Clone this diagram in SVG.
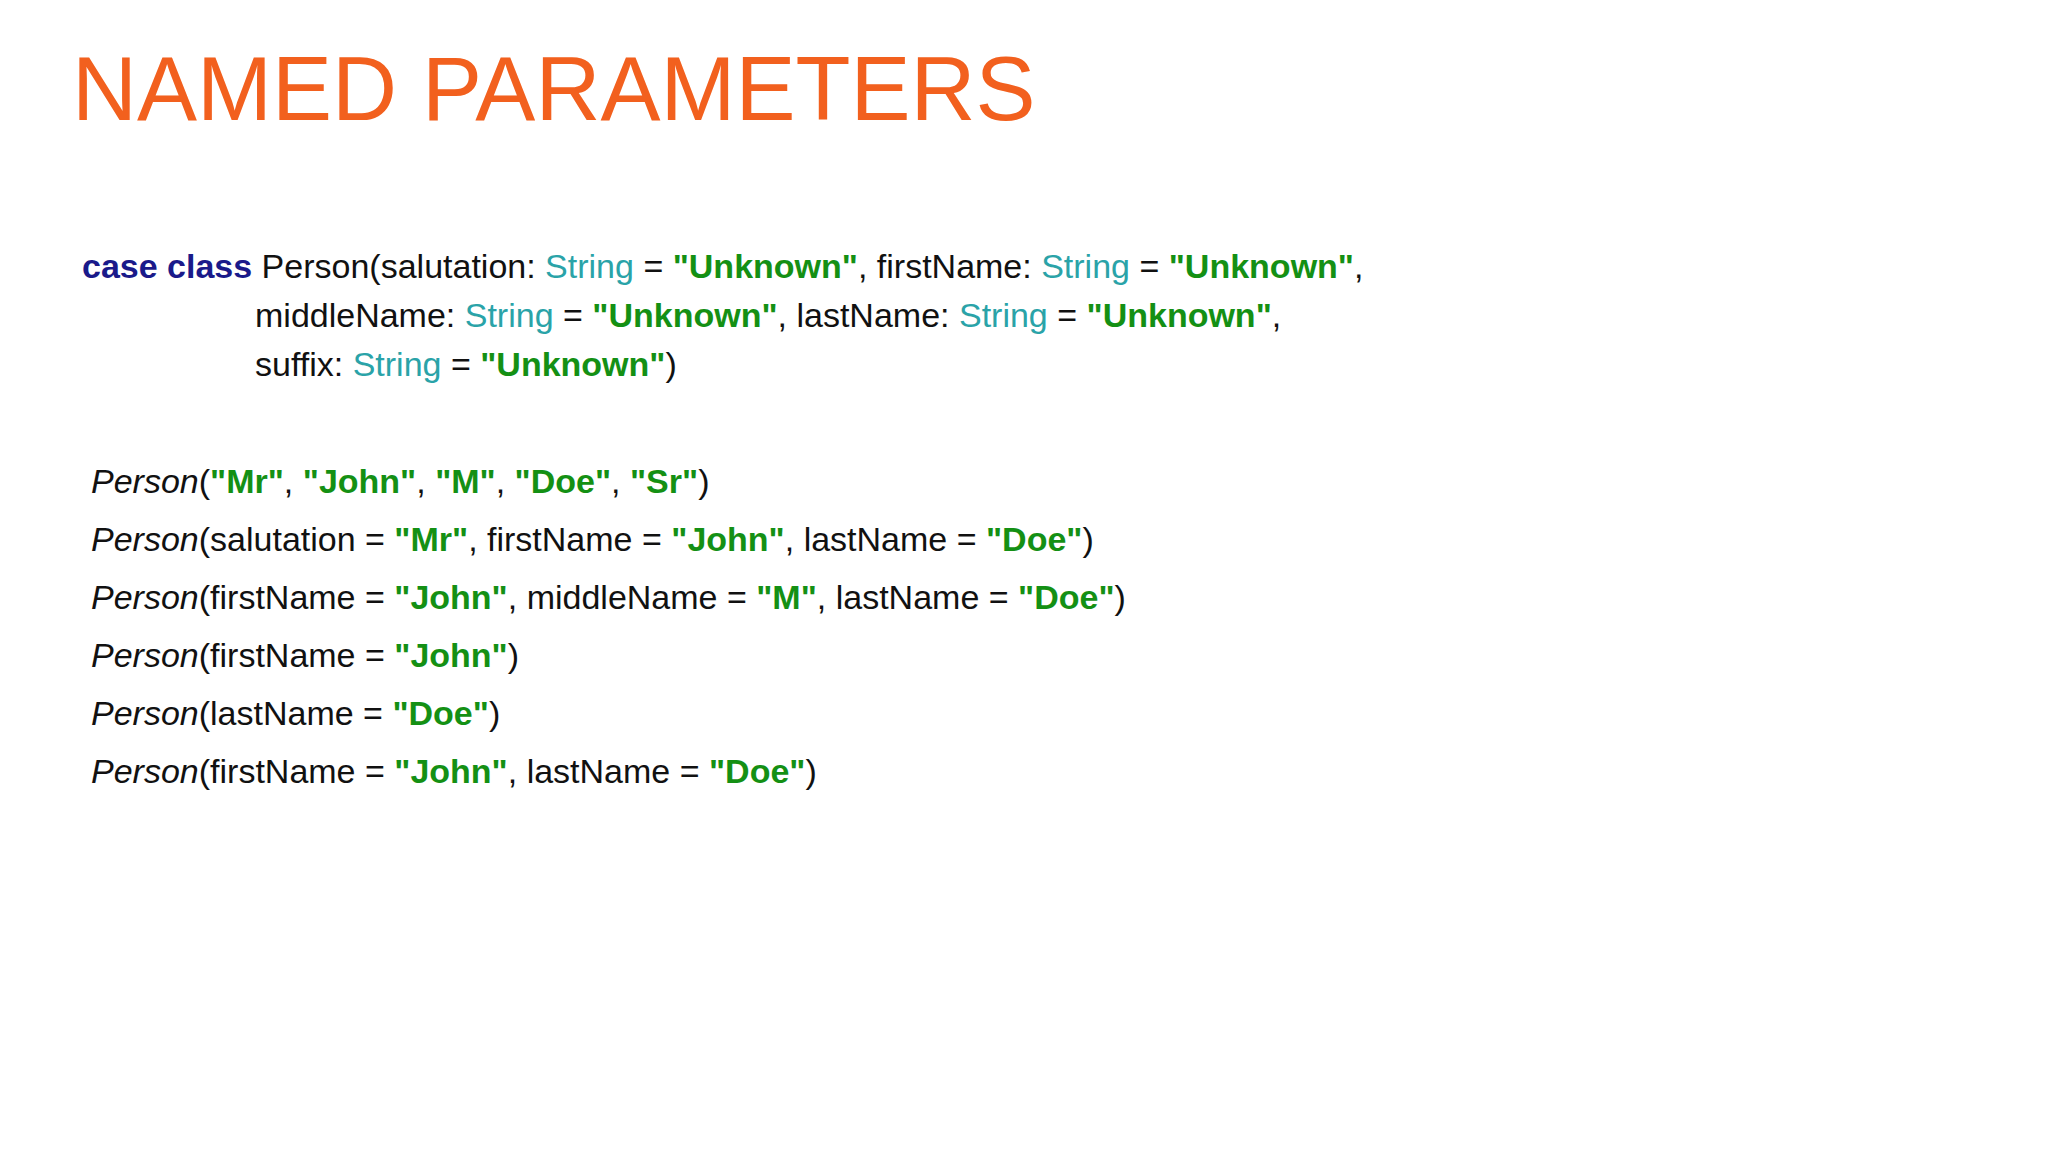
<svg xmlns="http://www.w3.org/2000/svg" width="2048" height="1152" viewBox="0 0 2048 1152">
<style>
text{font-family:"Liberation Sans",Arial,sans-serif;fill:#111}
.c{font-size:34px}
.k{fill:#1a1a8a;font-weight:bold}
.t{fill:#2aa3a8}
.s{fill:#149014;font-weight:bold}
.i{font-style:italic}
</style>
<rect width="2048" height="1152" fill="#fff"/>
<g id="title"><text x="72" y="120" font-size="90" style="fill:#f2601e">NAMED PARAMETERS</text></g>
<g id="classdef">
<text class="c" x="82" y="278"><tspan class="k">case class</tspan> Person(salutation: <tspan class="t">String</tspan> = <tspan class="s">"Unknown"</tspan>, firstName: <tspan class="t">String</tspan> = <tspan class="s">"Unknown"</tspan>,</text>
<text class="c" x="255" y="327">middleName: <tspan class="t">String</tspan> = <tspan class="s">"Unknown"</tspan>, lastName: <tspan class="t">String</tspan> = <tspan class="s">"Unknown"</tspan>,</text>
<text class="c" x="255" y="376">suffix: <tspan class="t">String</tspan> = <tspan class="s">"Unknown"</tspan>)</text>
</g>
<g id="calls">
<text class="c" x="91" y="493"><tspan class="i">Person</tspan>(<tspan class="s">"Mr"</tspan>, <tspan class="s">"John"</tspan>, <tspan class="s">"M"</tspan>, <tspan class="s">"Doe"</tspan>, <tspan class="s">"Sr"</tspan>)</text>
<text class="c" x="91" y="551"><tspan class="i">Person</tspan>(salutation = <tspan class="s">"Mr"</tspan>, firstName = <tspan class="s">"John"</tspan>, lastName = <tspan class="s">"Doe"</tspan>)</text>
<text class="c" x="91" y="609"><tspan class="i">Person</tspan>(firstName = <tspan class="s">"John"</tspan>, middleName = <tspan class="s">"M"</tspan>, lastName = <tspan class="s">"Doe"</tspan>)</text>
<text class="c" x="91" y="667"><tspan class="i">Person</tspan>(firstName = <tspan class="s">"John"</tspan>)</text>
<text class="c" x="91" y="725"><tspan class="i">Person</tspan>(lastName = <tspan class="s">"Doe"</tspan>)</text>
<text class="c" x="91" y="783"><tspan class="i">Person</tspan>(firstName = <tspan class="s">"John"</tspan>, lastName = <tspan class="s">"Doe"</tspan>)</text>
</g>
</svg>
